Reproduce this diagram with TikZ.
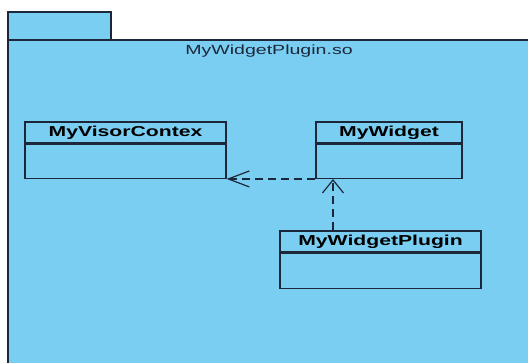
\documentclass[tikz,border=0pt]{standalone}
\usepackage{fontspec}
\setmainfont{Liberation Sans}
\newfontfamily\stretchfont[FakeStretch=1.47]{Liberation Sans}
\usetikzlibrary{arrows.meta,positioning}
\definecolor{pkgfill}{RGB}{122,206,242}
\definecolor{edge}{RGB}{28,40,58}
\tikzset{
  classhead/.style={draw=edge, line width=1.3pt, fill=pkgfill, inner sep=0pt,
    minimum height=21pt, font=\stretchfont\fontsize{14.4}{15}\selectfont\bfseries, text=black},
  classbody/.style={draw=edge, line width=1.3pt, fill=pkgfill, inner sep=0pt},
  dep/.style={draw=edge, line width=1.2pt, dash pattern=on 8pt off 5pt},
}
\begin{document}
\begin{tikzpicture}[x=1pt,y=-1pt]
\clip (0,0) rectangle (528,362);
\fill[white] (0,0) rectangle (528,362);
% package
\draw[edge, line width=1.3pt, fill=pkgfill] (8,12) rectangle (111,40);
\draw[edge, line width=1.5pt, fill=pkgfill] (8,40) rectangle (545,380);
\node[font=\stretchfont\fontsize{13.3}{14}\selectfont, text=edge] (pkglabel) at (269,51) {MyWidgetPlugin.so};
% classes
\node[classhead, minimum width=201pt] (vc) at (125.5,132.5) {MyVisorContex};
\node[classbody, minimum width=201pt, minimum height=34pt, below=0pt of vc] (vcb) {};
\node[classhead, minimum width=146pt] (mw) at (389,132.5) {MyWidget};
\node[classbody, minimum width=146pt, minimum height=34pt, below=0pt of mw] (mwb) {};
\node[classhead, minimum width=201pt] (mwp) at (380.5,241.5) {MyWidgetPlugin};
\node[classbody, minimum width=201pt, minimum height=35pt, below=0pt of mwp] (mwpb) {};
% dependencies
\coordinate (h) at (333,179);
\draw[dep, -{Straight Barb[length=21pt,width=16pt,line width=1.2pt]}] (mwb.south west) -- (vcb.south east);
\draw[dep, -{Straight Barb[length=13pt,width=21pt,line width=1.2pt]}] (mwp.north -| h) -- (h);
\end{tikzpicture}
\end{document}
